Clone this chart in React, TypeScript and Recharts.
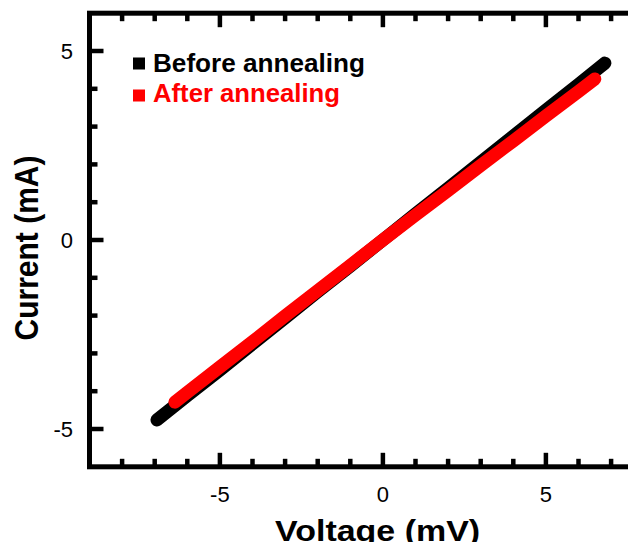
import React from 'react';
import { LineChart, Line, XAxis, YAxis, ReferenceArea, Legend, Label } from 'recharts';

// Data (Voltage in mV, Current in mA)
const beforeV = [-6.93, -6, -5, -4, -3, -2, -1, 0, 1, 2, 3, 4, 5, 6, 6.81];
const beforeI = [-4.76, -4.12, -3.44, -2.75, -2.06, -1.37, -0.69, 0, 0.69, 1.37, 2.06, 2.75, 3.44, 4.12, 4.68];
const afterV = [-6.38, -6, -5, -4, -3, -2, -1, 0, 1, 2, 3, 4, 5, 6, 6.5];
const afterI = [-4.29, -4.03, -3.36, -2.69, -2.01, -1.34, -0.67, 0, 0.66, 1.31, 1.97, 2.62, 3.28, 3.93, 4.26];

const xTicks = [-9, -8, -7, -6, -5, -4, -3, -2, -1, 0, 1, 2, 3, 4, 5, 6, 7, 8];
const yTicks = [-6, -5, -4, -3, -2, -1, 0, 1, 2, 3, 4, 5, 6];
const xLabels = [-5, 0, 5];
const yLabels = [-5, 0, 5];
const xDomain = [-9, 8];
const yDomain = [-6, 6];

const seriesNames = ['Before annealing', 'After annealing'];
const seriesColors = ['#000000', '#ff0000'];
const xTitle = 'Voltage (mV)';
const yTitle = 'Current (mA)';

const beforeData = beforeV.map((v, k) => ({ v, i: beforeI[k] }));
const afterData = afterV.map((v, k) => ({ v, i: afterI[k] }));

const FONT = '"Liberation Sans", Arial, Helvetica, sans-serif';
const MAJOR = 14;
const MINOR = 8;
const TICKW = 4.5;

const CW = 680;
const CH = 542;
const MARGIN = { left: 11.5, top: 5.2, right: 44.3, bottom: 23.2 };
const YAXIS_W = 70;
const XAXIS_H = 60;
const PLOT_W = CW - MARGIN.left - MARGIN.right - YAXIS_W;
const PLOT_H = CH - MARGIN.top - MARGIN.bottom - XAXIS_H;

const isEdge = (v: number, dom: number[]) => v === dom[0] || v === dom[1];

// Frame drawn as a custom ReferenceArea shape, with inward ticks on all four sides.
const FrameShape = (props: any) => {
  const { x, y, width, height } = props;
  const sx = (v: number) => x + ((v - xDomain[0]) / (xDomain[1] - xDomain[0])) * width;
  const sy = (v: number) => y + ((yDomain[1] - v) / (yDomain[1] - yDomain[0])) * height;
  const items: any[] = [];
  xTicks.filter((v) => !isEdge(v, xDomain)).forEach((v) => {
    const len = xLabels.includes(v) ? MAJOR : MINOR;
    const px = sx(v);
    items.push(<line key={`b${v}`} x1={px} x2={px} y1={y + height} y2={y + height - len} stroke="#000" strokeWidth={TICKW} />);
    items.push(<line key={`t${v}`} x1={px} x2={px} y1={y} y2={y + len} stroke="#000" strokeWidth={TICKW} />);
  });
  yTicks.filter((v) => !isEdge(v, yDomain)).forEach((v) => {
    const len = yLabels.includes(v) ? MAJOR : MINOR;
    const py = sy(v);
    items.push(<line key={`l${v}`} x1={x} x2={x + len} y1={py} y2={py} stroke="#000" strokeWidth={TICKW} />);
    items.push(<line key={`r${v}`} x1={x + width} x2={x + width - len} y1={py} y2={py} stroke="#000" strokeWidth={TICKW} />);
  });
  return (
    <g>
      <rect x={x} y={y} width={width} height={height} fill="none" stroke="#000" strokeWidth={5} />
      {items}
    </g>
  );
};

const BottomTick = (props: any) => {
  const { x, y, payload } = props;
  const v = payload.value;
  if (!xLabels.includes(v)) return <g />;
  return (
    <text x={x} y={y + 35} textAnchor="middle" fontSize={22} fontFamily={FONT} fill="#000">
      {String(v)}
    </text>
  );
};

const LeftTick = (props: any) => {
  const { x, y, payload } = props;
  const v = payload.value;
  if (!yLabels.includes(v)) return <g />;
  return (
    <text x={x - 16.5} y={y + 8} textAnchor="end" fontSize={22} fontFamily={FONT} fill="#000">
      {String(v)}
    </text>
  );
};

const XTitle = (props: any) => {
  const vb = props.viewBox || { x: 81.5, y: 458.8, width: PLOT_W, height: XAXIS_H };
  return (
    <text
      x={vb.x + vb.width / 2 + 11}
      y={vb.y + 74}
      textAnchor="middle"
      fontSize={30}
      fontWeight="bold"
      fontFamily={FONT}
      fill="#000"
      textLength={205}
      lengthAdjust="spacingAndGlyphs"
    >
      {xTitle}
    </text>
  );
};

const YTitle = (props: any) => {
  const vb = props.viewBox || { x: MARGIN.left, y: MARGIN.top, width: YAXIS_W, height: PLOT_H };
  const bx = vb.x + 18.5;
  const cy = vb.y + vb.height / 2 + 8;
  return (
    <text
      transform={`translate(${bx}, ${cy}) scale(1.12, 1) rotate(-90)`}
      x={0}
      y={0}
      textAnchor="middle"
      fontSize={30}
      fontWeight="bold"
      fontFamily={FONT}
      fill="#000"
    >
      {yTitle}
    </text>
  );
};

const legendRows = [
  { ry: 49.5, ty: 64, len: 212 },
  { ry: 81.5, ty: 93.7, len: 187 },
];

const LegendContent = () => (
  <svg width={400} height={110} style={{ display: 'block' }}>
    {seriesNames.map((name, k) => (
      <g key={name}>
        <rect x={125} y={legendRows[k].ry} width={12} height={12} fill={seriesColors[k]} />
        <text
          x={145}
          y={legendRows[k].ty}
          fontSize={25}
          fontWeight="bold"
          fontFamily={FONT}
          fill={seriesColors[k]}
          textLength={legendRows[k].len}
          lengthAdjust="spacingAndGlyphs"
        >
          {name}
        </text>
      </g>
    ))}
  </svg>
);

export default function App() {
  return (
    <div style={{ width: 628, height: CH, overflow: 'hidden', marginBottom: -8 }}>
      <LineChart width={CW} height={CH} margin={MARGIN}>
        <XAxis
          xAxisId={0}
          dataKey="v"
          type="number"
          domain={xDomain}
          ticks={xTicks}
          interval={0}
          allowDataOverflow
          axisLine={false}
          tickLine={false}
          tickSize={0}
          tickMargin={0}
          height={XAXIS_H}
          tick={<BottomTick />}
        >
          <Label content={<XTitle />} />
        </XAxis>
        <YAxis
          yAxisId={0}
          type="number"
          domain={yDomain}
          ticks={yTicks}
          interval={0}
          allowDataOverflow
          axisLine={false}
          tickLine={false}
          tickSize={0}
          tickMargin={0}
          width={YAXIS_W}
          tick={<LeftTick />}
        >
          <Label content={<YTitle />} />
        </YAxis>
        <ReferenceArea
          xAxisId={0}
          yAxisId={0}
          x1={xDomain[0]}
          x2={xDomain[1]}
          y1={yDomain[0]}
          y2={yDomain[1]}
          ifOverflow="visible"
          shape={<FrameShape />}
        />
        <Line
          data={beforeData}
          dataKey="i"
          name={seriesNames[0]}
          xAxisId={0}
          yAxisId={0}
          type="linear"
          stroke={seriesColors[0]}
          strokeWidth={13}
          strokeLinecap="round"
          strokeLinejoin="round"
          dot={false}
          activeDot={false}
          isAnimationActive={false}
        />
        <Line
          data={afterData}
          dataKey="i"
          name={seriesNames[1]}
          xAxisId={0}
          yAxisId={0}
          type="linear"
          stroke={seriesColors[1]}
          strokeWidth={13}
          strokeLinecap="round"
          strokeLinejoin="round"
          dot={false}
          activeDot={false}
          isAnimationActive={false}
        />
        <Legend
          layout="vertical"
          align="center"
          verticalAlign="middle"
          content={<LegendContent />}
          wrapperStyle={{ position: 'absolute', left: 0, top: 0, width: 400, height: 110 }}
        />
      </LineChart>
    </div>
  );
}
